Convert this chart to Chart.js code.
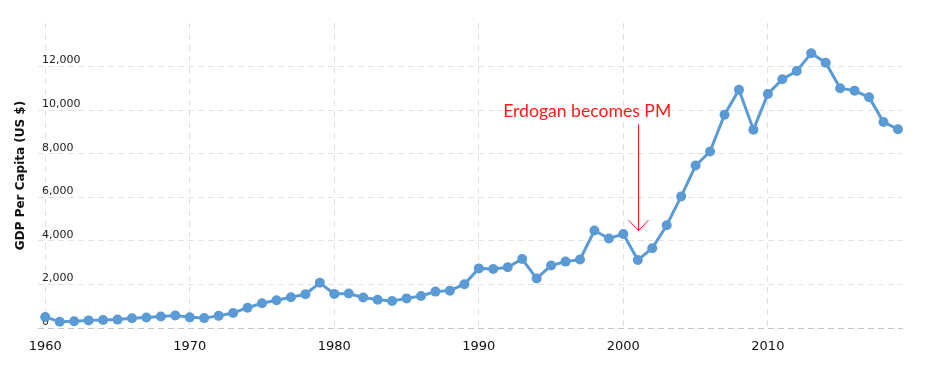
<!DOCTYPE html>
<html><head><meta charset="utf-8">
<script src="https://cdn.jsdelivr.net/npm/chart.js@4"></script>
<style>html,body{margin:0;padding:0;background:#fff}#wrap{width:927px;height:365px;position:relative}</style>
</head><body><div id="wrap"><canvas id="c"></canvas></div>
<script>
const years = [1960,1961,1962,1963,1964,1965,1966,1967,1968,1969,
  1970,1971,1972,1973,1974,1975,1976,1977,1978,1979,
  1980,1981,1982,1983,1984,1985,1986,1987,1988,1989,
  1990,1991,1992,1993,1994,1995,1996,1997,1998,1999,
  2000,2001,2002,2003,2004,2005,2006,2007,2008,2009,
  2010,2011,2012,2013,2014,2015,2016,2017,2018,2019];
const gdpPerCapita = [509,283,310,350,366,386,444,481,526,571,
  489,454,558,690,932,1136,1274,1412,1550,2075,
  1565,1580,1400,1300,1236,1359,1470,1671,1715,2010,
  2736,2708,2788,3167,2271,2870,3048,3144,4475,4110,
  4317,3119,3660,4719,6041,7456,8101,9792,10931,9104,
  10743,11420,11796,12615,12179,11006,10895,10590,9456,9127];
const xTickValues = [1960,1970,1980,1990,2000,2010];
const yTickValues = [0,2000,4000,6000,8000,10000,12000];
const yAxisTitle = 'GDP Per Capita (US $)';
const annotationLabel = 'Erdogan becomes PM';
const annotationYear = 2001;
const annotationArrowTop = 9350;
const annotationArrowTip = 4470;
const annotationLabelYear = 1997.5;
const annotationLabelValue = 9680;

const annotationPlugin = {
  id: 'erdoganNote',
  afterDatasetsDraw(chart) {
    const {ctx, scales: {x, y}} = chart;
    const ax = Math.round(x.getPixelForValue(annotationYear)) + 0.5;
    const top = y.getPixelForValue(annotationArrowTop);
    const tip = y.getPixelForValue(annotationArrowTip);
    ctx.save();
    ctx.strokeStyle = '#ff1a1a';
    ctx.lineWidth = 1;
    ctx.beginPath();
    ctx.moveTo(ax, top); ctx.lineTo(ax, tip);
    ctx.moveTo(ax - 10, tip - 10.5); ctx.lineTo(ax, tip); ctx.lineTo(ax + 10, tip - 10.5);
    ctx.stroke();
    ctx.fillStyle = '#ff1a1a';
    ctx.font = '17.6px Lato';
    ctx.textAlign = 'center';
    ctx.textBaseline = 'alphabetic';
    ctx.fillText(annotationLabel, x.getPixelForValue(annotationLabelYear), y.getPixelForValue(annotationLabelValue));
    ctx.restore();
  }
};

new Chart(document.getElementById('c'), {
  type: 'line',
  data: {
    datasets: [{
      data: years.map((yr, i) => ({x: yr, y: gdpPerCapita[i]})),
      borderColor: '#5b9bd5',
      backgroundColor: '#5b9bd5',
      borderWidth: 3,
      pointRadius: 5,
      pointBackgroundColor: '#5b9bd5',
      pointBorderWidth: 0,
      tension: 0
    }]
  },
  options: {
    responsive: true,
    maintainAspectRatio: false,
    devicePixelRatio: 1,
    animation: false,
    layout: {padding: {top: 23, right: 24, bottom: 0, left: 0}},
    plugins: {legend: {display: false}, tooltip: {enabled: false}},
    scales: {
      x: {
        type: 'linear',
        min: 1959.5,
        max: 2019.35,
        afterBuildTicks: s => { s.ticks = xTickValues.map(v => ({value: v})); },
        afterFit: s => { s.height = 37; },
        border: {display: false, dash: [6, 5]},
        grid: {color: '#e0e0e0', lineWidth: 1, drawTicks: false},
        ticks: {
          font: {family: 'DejaVu Sans', size: 13},
          color: '#111',
          padding: 11,
          maxRotation: 0,
          callback: v => String(v)
        }
      },
      y: {
        min: 0,
        max: 14000,
        afterBuildTicks: s => { s.ticks = yTickValues.map(v => ({value: v})); },
        afterFit: s => { s.width = 38; },
        border: {display: false, dash: [6, 4]},
        grid: {
          color: c => (c.tick && c.tick.value === 0) ? '#c4c4c4' : '#e3e3e3',
          lineWidth: 1,
          drawTicks: false
        },
        title: {
          display: true,
          text: yAxisTitle,
          font: {family: 'DejaVu Sans', size: 12, weight: 'bold'},
          color: '#111',
          padding: {top: 14, bottom: 0}
        },
        ticks: {
          mirror: true,
          padding: 4,
          labelOffset: -6,
          font: {family: 'DejaVu Sans', size: 11},
          color: '#222',
          callback: v => v.toLocaleString('en-US')
        }
      }
    }
  },
  plugins: [annotationPlugin]
});
</script>
</body></html>
